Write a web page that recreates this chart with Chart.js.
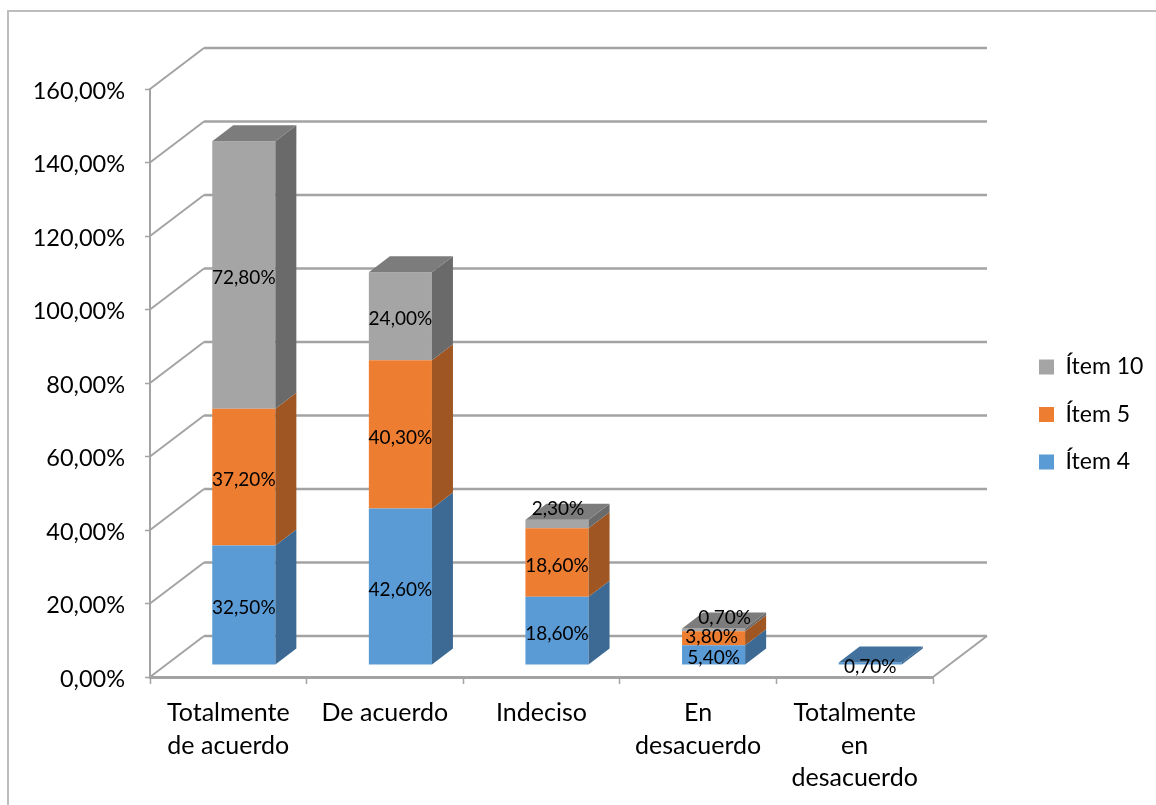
<!DOCTYPE html>
<html>
<head>
<meta charset="utf-8">
<title>Ítems</title>
<script src="https://cdn.jsdelivr.net/npm/chart.js@4"></script>
<style>
  html, body { margin: 0; padding: 0; background: #fff; overflow: hidden; }
  canvas { display: block; }
</style>
</head>
<body>
<canvas id="myChart" width="1156" height="805"></canvas>
<script>
const categories = [
  ["Totalmente", "de acuerdo"],
  "De acuerdo",
  "Indeciso",
  ["En", "desacuerdo"],
  ["Totalmente", "en", "desacuerdo"]
];
const item4 = [32.5, 42.6, 18.6, 5.4, 0.7];
const item5 = [37.2, 40.3, 18.6, 3.8, 0];
const item10 = [72.8, 24.0, 2.3, 0.7, 0];

const percent = v => v.toFixed(2).replace(".", ",") + "%";

// 3d look: wall depth, bar shift off the front plane, bar depth
const wall = { dx: 54, dy: -41 };
const shift = { dx: 15.5, dy: -12 };
const depth = { dx: 21, dy: -16 };
const gridColor = "#a3a3a3";
const sideColors = ["#3c6a94", "#9f5622", "#6a6a6a"];
const topColors = ["#41719c", "#ae5a21", "#7c7c7c"];

// labels that sit off their bar in the original [dataset, index, dx, dy]
const labelNudges = [
  [2, 2, 1, -15],
  [2, 3, 11, -12],
  [1, 3, -2, -1],
  [0, 4, 0, 3]
];

function poly(ctx, color, pts) {
  ctx.fillStyle = color;
  ctx.beginPath();
  pts.forEach((p, i) => i ? ctx.lineTo(p[0], p[1]) : ctx.moveTo(p[0], p[1]));
  ctx.closePath();
  ctx.fill();
}

const bars3d = {
  id: "bars3d",
  beforeDraw(chart) {
    // outer frame, only top and left are in the picture
    const ctx = chart.ctx;
    ctx.save();
    ctx.strokeStyle = "#bdbdbd";
    ctx.lineWidth = 2;
    ctx.beginPath();
    ctx.moveTo(8, 805);
    ctx.lineTo(8, 11);
    ctx.lineTo(1156, 11);
    ctx.stroke();
    ctx.restore();
  },
  afterLayout(chart) {
    const lg = chart.legend;
    const h = lg.bottom - lg.top;
    lg.left = 1039 - chart.options.plugins.legend.labels.padding;
    lg.right = 1156;
    lg.top = 331;
    lg.bottom = lg.top + h;
  },
  beforeDatasetsDraw(chart) {
    const ctx = chart.ctx;
    const area = chart.chartArea;
    const y = chart.scales.y;
    ctx.save();
    ctx.strokeStyle = gridColor;
    y.ticks.forEach(t => {
      const py = y.getPixelForValue(t.value);
      ctx.lineWidth = 2;
      ctx.beginPath();
      ctx.moveTo(area.left, py);
      ctx.lineTo(area.left + wall.dx, py + wall.dy);
      ctx.stroke();
      ctx.lineWidth = 2.6;
      ctx.beginPath();
      ctx.moveTo(area.left + wall.dx, py + wall.dy);
      ctx.lineTo(area.right + wall.dx, py + wall.dy);
      ctx.stroke();
    });
    ctx.lineWidth = 2;
    ctx.beginPath();
    ctx.moveTo(area.right, area.bottom);
    ctx.lineTo(area.right + wall.dx, area.bottom + wall.dy);
    ctx.stroke();
    ctx.restore();

    ctx.save();
    ctx.translate(shift.dx, shift.dy);
  },
  afterDatasetsDraw(chart) {
    const ctx = chart.ctx;
    chart.data.datasets.forEach((ds, i) => {
      chart.getDatasetMeta(i).data.forEach((bar, j) => {
        if (!ds.data[j]) return;
        const r = bar.x + bar.width / 2;
        const l = bar.x - bar.width / 2;
        poly(ctx, sideColors[i], [
          [r, bar.y], [r + depth.dx, bar.y + depth.dy],
          [r + depth.dx, bar.base + depth.dy], [r, bar.base]
        ]);
        const isTop = chart.data.datasets.slice(i + 1).every(d => !d.data[j]);
        if (isTop) {
          poly(ctx, topColors[i], [
            [l, bar.y], [l + depth.dx, bar.y + depth.dy],
            [r + depth.dx, bar.y + depth.dy], [r, bar.y]
          ]);
        }
      });
    });
    ctx.restore();

    ctx.save();
    ctx.font = "19px Lato";
    ctx.fillStyle = "#000";
    ctx.textAlign = "center";
    ctx.textBaseline = "middle";
    chart.data.datasets.forEach((ds, i) => {
      chart.getDatasetMeta(i).data.forEach((bar, j) => {
        if (!ds.data[j]) return;
        const n = labelNudges.find(a => a[0] === i && a[1] === j) || [i, j, 0, 3];
        const cy = (bar.y + bar.base) / 2;
        ctx.fillText(percent(ds.data[j]), bar.x + shift.dx + n[2], cy + shift.dy + n[3]);
      });
    });
    ctx.restore();
  }
};

new Chart(document.getElementById("myChart"), {
  type: "bar",
  data: {
    labels: categories,
    datasets: [
      { label: "Ítem 4", data: item4, backgroundColor: "#5b9bd5" },
      { label: "Ítem 5", data: item5, backgroundColor: "#ed7d31" },
      { label: "Ítem 10", data: item10, backgroundColor: "#a5a5a5" }
    ]
  },
  options: {
    responsive: false,
    animation: false,
    layout: { autoPadding: false, padding: { left: 0, top: 89, right: 103, bottom: 0 } },
    datasets: { bar: { categoryPercentage: 1, barPercentage: 0.403 } },
    scales: {
      x: {
        stacked: true,
        afterFit: s => { s.height = 128; },
        border: { color: gridColor, width: 3 },
        grid: { drawOnChartArea: false, tickLength: 7, tickColor: gridColor, tickWidth: 1.5 },
        ticks: { color: "#000", font: { family: "Lato", size: 25, lineHeight: 1.3 }, padding: 13, maxRotation: 0, autoSkip: false }
      },
      y: {
        stacked: true,
        min: 0,
        max: 160,
        afterFit: s => { s.width = 150; },
        border: { color: gridColor, width: 2 },
        grid: { drawOnChartArea: false, tickLength: 5, tickColor: gridColor, tickWidth: 1.5 },
        ticks: { color: "#000", font: { family: "Lato", size: 23.5 }, padding: 20, labelOffset: 2, stepSize: 20, callback: v => percent(v) }
      }
    },
    plugins: {
      tooltip: { enabled: false },
      legend: {
        position: "right",
        align: "start",
        reverse: true,
        maxWidth: 120,
        labels: { color: "#000", font: { family: "Lato", size: 23 }, boxWidth: 15, boxHeight: 15, padding: 24.5 }
      }
    }
  },
  plugins: [bars3d]
});
</script>
</body>
</html>
